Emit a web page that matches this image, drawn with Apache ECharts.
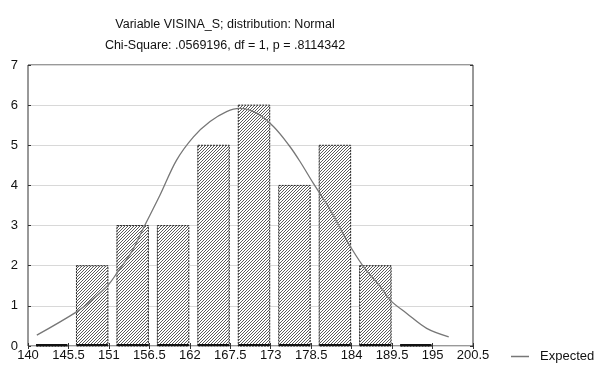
<!DOCTYPE html>
<html>
<head>
<meta charset="utf-8">
<script src="https://cdn.jsdelivr.net/npm/echarts@6/dist/echarts.min.js"></script>
<style>
    html, body { margin: 0; padding: 0; background: #fff; }
    #chart { width: 600px; height: 365px; }
</style>
</head>
<body>
<div id="chart"></div>
<script>
// histogram bins (lower / upper bound) and observed counts
const binStarts = [140, 145.5, 151, 156.5, 162, 167.5, 173, 178.5, 184, 189.5];
const binEnds = [145.5, 151, 156.5, 162, 167.5, 173, 178.5, 184, 189.5, 195];
const counts = [0, 2, 3, 3, 5, 6, 4, 5, 2, 0];

// x axis tick labels
const tickValues = [140, 145.5, 151, 156.5, 162, 167.5, 173, 178.5, 184, 189.5, 195, 200.5];

// expected (normal) curve
const curveX = [141.2, 146.6, 148.7, 150.9, 152.1, 154.1, 155.7, 157.95, 160.2, 162.5, 164.75, 167.0,
    168.8, 171.1, 173.4, 175.6, 177.0, 178.8, 181.1, 183.3, 185.6, 187.9, 189.2, 191.5, 194.2, 197.2];
const curveY = [0.27, 0.85, 1.15, 1.52, 1.82, 2.35, 2.94, 3.76, 4.63, 5.21, 5.59, 5.84,
    5.92, 5.80, 5.46, 4.97, 4.59, 4.05, 3.39, 2.64, 1.98, 1.48, 1.15, 0.81, 0.44, 0.23];

const chart = echarts.init(document.getElementById('chart'));

// diagonal hatch pattern for the bars
function makeHatch() {
    let c = document.createElement('canvas');
    c.width = 3;
    c.height = 3;
    let ctx = c.getContext('2d');
    ctx.fillStyle = '#ffffff';
    ctx.fillRect(0, 0, 3, 3);
    ctx.strokeStyle = '#5a5a5a';
    ctx.lineWidth = 1;
    ctx.beginPath();
    ctx.moveTo(-1, 4); ctx.lineTo(4, -1);
    ctx.moveTo(-1, 1); ctx.lineTo(1, -1);
    ctx.moveTo(2, 4); ctx.lineTo(4, 2);
    ctx.stroke();
    return c;
}
const hatch = makeHatch();

const barData = binStarts.map((s, i) => [s, binEnds[i], counts[i]]);
const curveData = curveX.map((x, i) => [x, curveY[i]]);

const font = 'Liberation Sans, Arial, sans-serif';

const option = {
    backgroundColor: '#ffffff',
    animation: false,
    title: {
        text: 'Variable VISINA_S; distribution: Normal\nChi-Square: .0569196, df = 1, p = .8114342',
        left: 220,
        top: 9,
        textAlign: 'center',
        textStyle: {
            fontFamily: font,
            fontSize: 12.5,
            fontWeight: 'normal',
            color: '#111',
            lineHeight: 21
        }
    },
    legend: {
        data: [{ name: 'Expected', icon: 'rect' }],
        left: 506,
        top: 345,
        itemWidth: 18,
        itemHeight: 1.5,
        textStyle: { fontFamily: font, fontSize: 13, color: '#111', padding: [0, 0, 0, 6] }
    },
    grid: {
        left: 28,
        right: 127,
        top: 65,
        bottom: 19,
        show: true,
        borderColor: '#333',
        borderWidth: 1
    },
    xAxis: [
        {
            type: 'value',
            min: 140,
            max: 200.5,
            splitLine: { show: false },
            axisLine: { show: false },
            axisTick: { show: true, inside: true, length: 3, customValues: tickValues, lineStyle: { color: '#333' } },
            axisLabel: {
                customValues: tickValues,
                formatter: v => String(v),
                fontFamily: font,
                fontSize: 13,
                color: '#111',
                margin: 3
            }
        },
        {
            type: 'value',
            position: 'top',
            min: 140,
            max: 200.5,
            splitLine: { show: false },
            axisLine: { show: false },
            axisTick: { show: true, inside: true, length: 3, customValues: tickValues, lineStyle: { color: '#333' } },
            axisLabel: { show: false, customValues: tickValues }
        }
    ],
    yAxis: [
        {
            type: 'value',
            min: 0,
            max: 7,
            interval: 1,
            axisLine: { show: false },
            axisTick: { show: true, inside: true, length: 3, lineStyle: { color: '#333' } },
            splitLine: { show: true, lineStyle: { color: '#d8d8d8', width: 1 } },
            axisLabel: { fontFamily: font, fontSize: 13, color: '#111', margin: 10 }
        },
        {
            type: 'value',
            position: 'right',
            min: 0,
            max: 7,
            interval: 1,
            axisLine: { show: false },
            axisTick: { show: true, inside: true, length: 3, lineStyle: { color: '#333' } },
            splitLine: { show: false },
            axisLabel: { show: false }
        }
    ],
    series: [
        {
            name: 'Observed',
            type: 'custom',
            data: barData,
            encode: { x: [0, 1], y: 2 },
            renderItem: function (params, api) {
                let p0 = api.coord([api.value(0), 0]);
                let p1 = api.coord([api.value(1), api.value(2)]);
                let x0 = p0[0] + 8;
                let x1 = p1[0] - 1;
                return {
                    type: 'group',
                    children: [
                        {
                            type: 'rect',
                            shape: { x: x0, y: p1[1], width: x1 - x0, height: p0[1] - p1[1] },
                            style: {
                                fill: { image: hatch, repeat: 'repeat' },
                                stroke: '#222',
                                lineWidth: 1,
                                lineDash: [2, 1]
                            }
                        },
                        {
                            type: 'line',
                            shape: { x1: x0, y1: p0[1] - 1, x2: x1, y2: p0[1] - 1 },
                            style: { stroke: '#111', lineWidth: 2 }
                        }
                    ]
                };
            },
            z: 2
        },
        {
            name: 'Expected',
            type: 'line',
            data: curveData,
            smooth: 0.35,
            symbol: 'none',
            lineStyle: { color: '#777', width: 1.3 },
            itemStyle: { color: '#777' },
            z: 3
        }
    ]
};

chart.setOption(option);
</script>
</body>
</html>
